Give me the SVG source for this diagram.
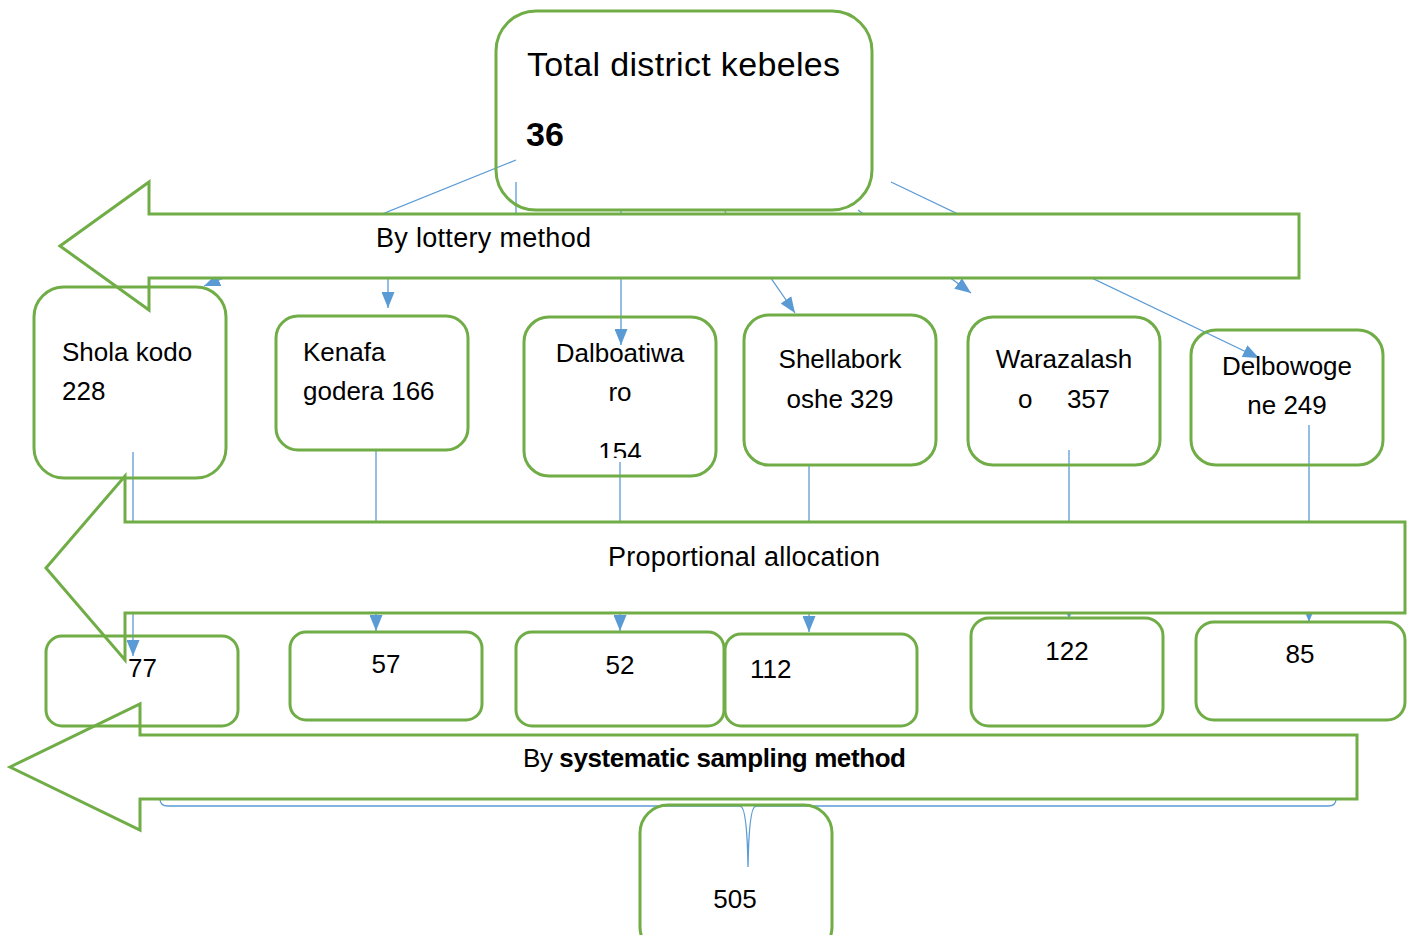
<svg xmlns="http://www.w3.org/2000/svg" width="1413" height="935" viewBox="0 0 1413 935">
  <style>
    .box { fill: none; stroke: #70AD47; stroke-width: 3; }
    .arrow { fill: #FFFFFF; stroke: #70AD47; stroke-width: 3; stroke-linejoin: miter; }
    .conn { fill: none; stroke: #5B9BD5; stroke-width: 1.3; }
    .t { font-family: "Liberation Sans", Arial, sans-serif; font-size: 26px; fill: #000000; }
    .big { font-size: 34px; }
    .mid { font-size: 27px; }
    .c { text-anchor: middle; }
    .b { font-weight: bold; }
  </style>
  <defs>
    <marker id="ah" markerWidth="16" markerHeight="13" refX="16" refY="6.5" orient="auto" markerUnits="userSpaceOnUse">
      <path d="M0,0 L16,6.5 L0,13 Z" fill="#5B9BD5"/>
    </marker>
    <clipPath id="clip154">
      <rect x="520" y="300" width="200" height="158"/>
    </clipPath>
  </defs>
  <rect width="1413" height="935" fill="#FFFFFF"/>

  <g id="connectors">
    <line class="conn" x1="516" y1="160" x2="204" y2="286" marker-end="url(#ah)"/>
    <path class="conn" d="M516,182 V246 H388 V308" marker-end="url(#ah)"/>
    <line class="conn" x1="621" y1="210" x2="621" y2="345" marker-end="url(#ah)"/>
    <line class="conn" x1="724" y1="210" x2="795" y2="313" marker-end="url(#ah)"/>
    <line class="conn" x1="858" y1="210" x2="971" y2="293" marker-end="url(#ah)"/>
    <line class="conn" x1="891" y1="182" x2="1259" y2="358" marker-end="url(#ah)"/>

    <line class="conn" x1="133" y1="452" x2="133" y2="656" marker-end="url(#ah)"/>
    <line class="conn" x1="376" y1="450" x2="376" y2="631" marker-end="url(#ah)"/>
    <line class="conn" x1="620" y1="462" x2="620" y2="631" marker-end="url(#ah)"/>
    <line class="conn" x1="809" y1="465" x2="809" y2="632" marker-end="url(#ah)"/>
    <line class="conn" x1="1069" y1="450" x2="1069" y2="619" marker-end="url(#ah)"/>
    <line class="conn" x1="1309" y1="425" x2="1309" y2="622" marker-end="url(#ah)"/>

    <path class="conn" d="M160,799 Q160,806 168,806 L740,806 Q747,806 748,867 Q749,806 756,806 L1328,806 Q1336,806 1336,799"/>
  </g>

  <g id="arrow-lottery">
    <path class="arrow" d="M60,246 L149,182 L149,214 L1299,214 L1299,278 L149,278 L149,310 Z"/>
    <text class="t mid" x="376" y="247" textLength="215">By lottery method</text>
  </g>
  <g id="arrow-proportional">
    <path class="arrow" d="M46,568 L125,476 L125,522 L1405,522 L1405,613 L125,613 L125,660 Z"/>
    <text class="t mid" x="608" y="566" textLength="272">Proportional allocation</text>
  </g>
  <g id="arrow-systematic">
    <path class="arrow" d="M10,767 L140,704 L140,735 L1357,735 L1357,799 L140,799 L140,830 Z"/>
    <text class="t" x="523" y="767" textLength="383">By <tspan class="b">systematic sampling method</tspan></text>
  </g>

  <g id="node-total">
    <rect class="box" x="496" y="11" width="376" height="199" rx="40"/>
    <text class="t big" x="527" y="76" textLength="313">Total district kebeles</text>
    <text class="t big b" x="526" y="146">36</text>
  </g>

  <g id="node-shola">
    <rect class="box" x="34" y="287" width="192" height="191" rx="30"/>
    <text class="t" x="62" y="361">Shola kodo</text>
    <text class="t" x="62" y="400">228</text>
  </g>
  <g id="node-kenafa">
    <rect class="box" x="276" y="316" width="192" height="134" rx="22"/>
    <text class="t" x="303" y="361">Kenafa</text>
    <text class="t" x="303" y="400">godera 166</text>
  </g>
  <g id="node-dalboatiwaro">
    <rect class="box" x="524" y="317" width="192" height="159" rx="25"/>
    <text class="t c" x="620" y="362">Dalboatiwa</text>
    <text class="t c" x="620" y="401">ro</text>
    <text class="t c" x="620" y="461" clip-path="url(#clip154)">154</text>
  </g>
  <g id="node-shellaborkoshe">
    <rect class="box" x="744" y="315" width="192" height="150" rx="25"/>
    <text class="t c" x="840" y="368">Shellabork</text>
    <text class="t c" x="840" y="408">oshe 329</text>
  </g>
  <g id="node-warazalasho">
    <rect class="box" x="968" y="317" width="192" height="148" rx="25"/>
    <text class="t c" x="1064" y="368">Warazalash</text>
    <text class="t" x="1018" y="408" xml:space="preserve" textLength="92">o     357</text>
  </g>
  <g id="node-delbowogene">
    <rect class="box" x="1191" y="330" width="192" height="135" rx="25"/>
    <text class="t c" x="1287" y="375">Delbowoge</text>
    <text class="t c" x="1287" y="414">ne 249</text>
  </g>

  <g id="node-77">
    <rect class="box" x="46" y="636" width="192" height="90" rx="16"/>
    <text class="t" x="128" y="677">77</text>
  </g>
  <g id="node-57">
    <rect class="box" x="290" y="632" width="192" height="88" rx="16"/>
    <text class="t c" x="386" y="673">57</text>
  </g>
  <g id="node-52">
    <rect class="box" x="516" y="632" width="208" height="94" rx="16"/>
    <text class="t c" x="620" y="674">52</text>
  </g>
  <g id="node-112">
    <rect class="box" x="725" y="634" width="192" height="92" rx="16"/>
    <text class="t" x="750" y="678">112</text>
  </g>
  <g id="node-122">
    <rect class="box" x="971" y="618" width="192" height="108" rx="18"/>
    <text class="t c" x="1067" y="660">122</text>
  </g>
  <g id="node-85">
    <rect class="box" x="1196" y="622" width="209" height="98" rx="18"/>
    <text class="t c" x="1300" y="663">85</text>
  </g>

  <g id="node-505">
    <rect class="box" x="640" y="805" width="192" height="150" rx="28"/>
    <text class="t c" x="735" y="908">505</text>
  </g>
</svg>
